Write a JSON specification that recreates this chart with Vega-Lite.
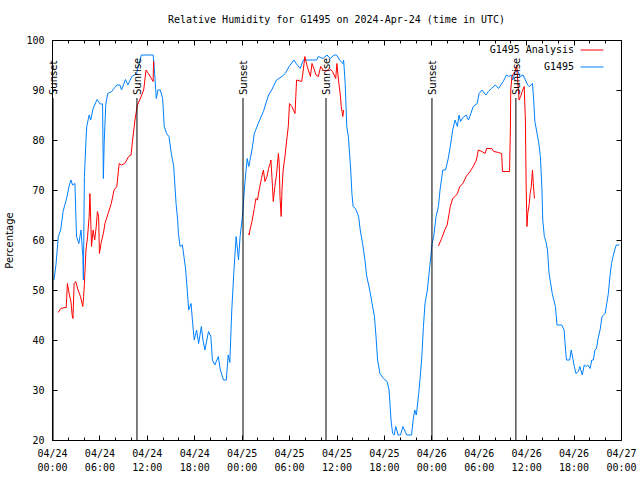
{
  "$schema": "https://vega.github.io/schema/vega-lite/v6.json",
  "width": 569,
  "height": 400,
  "autosize": "none",
  "padding": {"left": 52, "top": 40, "right": 19, "bottom": 40},
  "background": "#ffffff",
  "title": {"text": "Relative Humidity for G1495 on 2024-Apr-24 (time in UTC)", "font": "DejaVu Sans Mono", "fontSize": 10, "fontWeight": "normal", "color": "#000000", "offset": 10, "anchor": "middle"},
  "config": {
    "view": {"stroke": "#000000", "strokeWidth": 1},
    "axis": {"grid": false, "domain": false, "tickColor": "#000000", "labelColor": "#000000", "titleColor": "#000000", "labelFont": "DejaVu Sans Mono", "labelFontSize": 10},
    "legend": {"labelFont": "DejaVu Sans Mono", "labelFontSize": 10, "labelColor": "#000000"}
  },
  "datasets": {
    "obs": [
      {"series":"G1495","hour":0.25,"rh":52},{"series":"G1495","hour":0.5,"rh":55},{"series":"G1495","hour":0.8,"rh":60.7},{"series":"G1495","hour":1.1,"rh":62},{"series":"G1495","hour":1.4,"rh":65.7},{"series":"G1495","hour":1.86,"rh":68.4},{"series":"G1495","hour":2.2,"rh":71},{"series":"G1495","hour":2.4,"rh":72},{"series":"G1495","hour":2.6,"rh":71},{"series":"G1495","hour":2.9,"rh":71.3},{"series":"G1495","hour":3.1,"rh":60.7},{"series":"G1495","hour":3.4,"rh":59.3},{"series":"G1495","hour":3.67,"rh":62},{"series":"G1495","hour":3.9,"rh":56.7},{"series":"G1495","hour":3.97,"rh":52},{"series":"G1495","hour":4.1,"rh":72.7},{"series":"G1495","hour":4.3,"rh":80},{"series":"G1495","hour":4.4,"rh":82.7},{"series":"G1495","hour":4.7,"rh":85},{"series":"G1495","hour":4.9,"rh":84},{"series":"G1495","hour":5.2,"rh":86.3},{"series":"G1495","hour":5.7,"rh":88.1},{"series":"G1495","hour":6.1,"rh":87.2},{"series":"G1495","hour":6.4,"rh":87.2},{"series":"G1495","hour":6.5,"rh":72.3},{"series":"G1495","hour":6.6,"rh":79.3},{"series":"G1495","hour":6.8,"rh":87},{"series":"G1495","hour":7.05,"rh":89.3},{"series":"G1495","hour":7.55,"rh":89.7},{"series":"G1495","hour":8.2,"rh":91},{"series":"G1495","hour":8.6,"rh":91},{"series":"G1495","hour":8.8,"rh":90},{"series":"G1495","hour":9.3,"rh":92.1},{"series":"G1495","hour":9.6,"rh":91},{"series":"G1495","hour":10.1,"rh":92.7},{"series":"G1495","hour":10.7,"rh":93.3},{"series":"G1495","hour":11.3,"rh":97},{"series":"G1495","hour":12.8,"rh":97},{"series":"G1495","hour":12.9,"rh":95.3},{"series":"G1495","hour":13.2,"rh":88.3},{"series":"G1495","hour":13.4,"rh":90},{"series":"G1495","hour":13.7,"rh":90},{"series":"G1495","hour":14.0,"rh":88.3},{"series":"G1495","hour":14.2,"rh":82.7},{"series":"G1495","hour":14.5,"rh":81.3},{"series":"G1495","hour":14.8,"rh":80.7},{"series":"G1495","hour":15.1,"rh":77.3},{"series":"G1495","hour":15.4,"rh":74.7},{"series":"G1495","hour":15.7,"rh":67.3},{"series":"G1495","hour":15.9,"rh":64},{"series":"G1495","hour":16.0,"rh":61.3},{"series":"G1495","hour":16.2,"rh":58.7},{"series":"G1495","hour":16.5,"rh":59},{"series":"G1495","hour":16.9,"rh":54.3},{"series":"G1495","hour":17.05,"rh":51.3},{"series":"G1495","hour":17.3,"rh":46},{"series":"G1495","hour":17.6,"rh":47.3},{"series":"G1495","hour":17.8,"rh":43.3},{"series":"G1495","hour":18.0,"rh":40},{"series":"G1495","hour":18.3,"rh":42},{"series":"G1495","hour":18.55,"rh":39.3},{"series":"G1495","hour":18.9,"rh":42.7},{"series":"G1495","hour":19.1,"rh":40},{"series":"G1495","hour":19.35,"rh":38},{"series":"G1495","hour":19.8,"rh":41.7},{"series":"G1495","hour":20.1,"rh":40.7},{"series":"G1495","hour":20.3,"rh":36},{"series":"G1495","hour":20.6,"rh":35},{"series":"G1495","hour":21.05,"rh":36.7},{"series":"G1495","hour":21.3,"rh":34},{"series":"G1495","hour":21.7,"rh":32},{"series":"G1495","hour":22.05,"rh":32},{"series":"G1495","hour":22.3,"rh":37},{"series":"G1495","hour":22.5,"rh":35.5},{"series":"G1495","hour":22.75,"rh":46},{"series":"G1495","hour":23.0,"rh":53.3},{"series":"G1495","hour":23.3,"rh":60.7},{"series":"G1495","hour":23.6,"rh":56},{"series":"G1495","hour":23.8,"rh":60.7},{"series":"G1495","hour":24.1,"rh":64.7},{"series":"G1495","hour":24.4,"rh":71.3},{"series":"G1495","hour":24.7,"rh":76.3},{"series":"G1495","hour":24.9,"rh":74.7},{"series":"G1495","hour":25.3,"rh":78},{"series":"G1495","hour":25.6,"rh":81.3},{"series":"G1495","hour":26.1,"rh":83.3},{"series":"G1495","hour":26.75,"rh":85.7},{"series":"G1495","hour":27.4,"rh":89},{"series":"G1495","hour":27.8,"rh":90},{"series":"G1495","hour":28.4,"rh":92},{"series":"G1495","hour":29.1,"rh":92.7},{"series":"G1495","hour":29.5,"rh":93.3},{"series":"G1495","hour":30.0,"rh":94.7},{"series":"G1495","hour":30.6,"rh":96},{"series":"G1495","hour":30.9,"rh":95.3},{"series":"G1495","hour":31.4,"rh":94.3},{"series":"G1495","hour":31.8,"rh":96},{"series":"G1495","hour":32.3,"rh":96},{"series":"G1495","hour":33.5,"rh":96},{"series":"G1495","hour":33.7,"rh":96.7},{"series":"G1495","hour":34.3,"rh":96.3},{"series":"G1495","hour":34.8,"rh":97},{"series":"G1495","hour":35.2,"rh":96.3},{"series":"G1495","hour":35.7,"rh":97},{"series":"G1495","hour":36.0,"rh":97},{"series":"G1495","hour":36.4,"rh":96},{"series":"G1495","hour":36.8,"rh":95.3},{"series":"G1495","hour":36.9,"rh":96},{"series":"G1495","hour":37.1,"rh":91.3},{"series":"G1495","hour":37.3,"rh":82.7},{"series":"G1495","hour":37.5,"rh":80.7},{"series":"G1495","hour":37.8,"rh":74},{"series":"G1495","hour":37.95,"rh":69.3},{"series":"G1495","hour":38.1,"rh":66.7},{"series":"G1495","hour":38.4,"rh":66.3},{"series":"G1495","hour":38.8,"rh":64.7},{"series":"G1495","hour":39.0,"rh":62},{"series":"G1495","hour":39.3,"rh":59.3},{"series":"G1495","hour":39.6,"rh":56},{"series":"G1495","hour":39.8,"rh":53},{"series":"G1495","hour":40.2,"rh":50},{"series":"G1495","hour":40.5,"rh":47.3},{"series":"G1495","hour":40.8,"rh":44.7},{"series":"G1495","hour":41.0,"rh":40.7},{"series":"G1495","hour":41.2,"rh":36},{"series":"G1495","hour":41.5,"rh":33.3},{"series":"G1495","hour":41.95,"rh":32.3},{"series":"G1495","hour":42.4,"rh":31.7},{"series":"G1495","hour":42.65,"rh":30},{"series":"G1495","hour":42.9,"rh":24},{"series":"G1495","hour":43.1,"rh":21.3},{"series":"G1495","hour":43.3,"rh":21},{"series":"G1495","hour":43.5,"rh":22.7},{"series":"G1495","hour":43.8,"rh":21},{"series":"G1495","hour":44.1,"rh":21},{"series":"G1495","hour":44.4,"rh":22.7},{"series":"G1495","hour":44.6,"rh":22},{"series":"G1495","hour":44.9,"rh":21},{"series":"G1495","hour":45.5,"rh":21},{"series":"G1495","hour":45.7,"rh":24},{"series":"G1495","hour":45.9,"rh":26},{"series":"G1495","hour":46.1,"rh":25},{"series":"G1495","hour":46.4,"rh":29.3},{"series":"G1495","hour":46.6,"rh":32.7},{"series":"G1495","hour":46.8,"rh":36.7},{"series":"G1495","hour":47.0,"rh":42.7},{"series":"G1495","hour":47.2,"rh":47.3},{"series":"G1495","hour":47.5,"rh":50},{"series":"G1495","hour":47.8,"rh":54.7},{"series":"G1495","hour":48.1,"rh":59.3},{"series":"G1495","hour":48.3,"rh":60.7},{"series":"G1495","hour":48.6,"rh":64.7},{"series":"G1495","hour":48.9,"rh":66.7},{"series":"G1495","hour":49.1,"rh":70},{"series":"G1495","hour":49.45,"rh":74},{"series":"G1495","hour":49.8,"rh":74},{"series":"G1495","hour":50.1,"rh":76},{"series":"G1495","hour":50.4,"rh":78.7},{"series":"G1495","hour":50.7,"rh":82},{"series":"G1495","hour":51.0,"rh":84},{"series":"G1495","hour":51.3,"rh":82.7},{"series":"G1495","hour":51.5,"rh":85},{"series":"G1495","hour":51.7,"rh":83.7},{"series":"G1495","hour":52.0,"rh":84.5},{"series":"G1495","hour":52.4,"rh":85},{"series":"G1495","hour":52.7,"rh":84},{"series":"G1495","hour":53.0,"rh":85.3},{"series":"G1495","hour":53.3,"rh":86.7},{"series":"G1495","hour":53.8,"rh":87.3},{"series":"G1495","hour":54.05,"rh":89.3},{"series":"G1495","hour":54.4,"rh":90},{"series":"G1495","hour":54.9,"rh":89},{"series":"G1495","hour":55.2,"rh":89.7},{"series":"G1495","hour":55.6,"rh":90.3},{"series":"G1495","hour":56.1,"rh":91},{"series":"G1495","hour":56.5,"rh":90.3},{"series":"G1495","hour":56.8,"rh":91},{"series":"G1495","hour":57.1,"rh":91.7},{"series":"G1495","hour":57.5,"rh":93},{"series":"G1495","hour":57.8,"rh":92.7},{"series":"G1495","hour":58.1,"rh":93},{"series":"G1495","hour":58.3,"rh":92},{"series":"G1495","hour":58.6,"rh":93.7},{"series":"G1495","hour":59.0,"rh":93.7},{"series":"G1495","hour":59.2,"rh":92.7},{"series":"G1495","hour":59.6,"rh":93},{"series":"G1495","hour":59.9,"rh":92},{"series":"G1495","hour":60.2,"rh":91},{"series":"G1495","hour":60.4,"rh":90.7},{"series":"G1495","hour":60.8,"rh":91.3},{"series":"G1495","hour":60.95,"rh":88},{"series":"G1495","hour":61.1,"rh":83.7},{"series":"G1495","hour":61.3,"rh":82},{"series":"G1495","hour":61.6,"rh":79.3},{"series":"G1495","hour":61.8,"rh":76.7},{"series":"G1495","hour":62.0,"rh":70},{"series":"G1495","hour":62.1,"rh":64},{"series":"G1495","hour":62.3,"rh":60.7},{"series":"G1495","hour":62.5,"rh":59.7},{"series":"G1495","hour":62.7,"rh":58},{"series":"G1495","hour":62.9,"rh":53.3},{"series":"G1495","hour":63.3,"rh":49.3},{"series":"G1495","hour":63.5,"rh":48},{"series":"G1495","hour":63.7,"rh":46.7},{"series":"G1495","hour":63.9,"rh":43},{"series":"G1495","hour":64.5,"rh":43},{"series":"G1495","hour":64.8,"rh":42},{"series":"G1495","hour":65.0,"rh":37.7},{"series":"G1495","hour":65.1,"rh":36},{"series":"G1495","hour":65.5,"rh":36},{"series":"G1495","hour":65.7,"rh":38},{"series":"G1495","hour":65.9,"rh":36.3},{"series":"G1495","hour":66.1,"rh":34.7},{"series":"G1495","hour":66.3,"rh":33.3},{"series":"G1495","hour":66.6,"rh":33.7},{"series":"G1495","hour":66.8,"rh":34.7},{"series":"G1495","hour":67.1,"rh":33},{"series":"G1495","hour":67.35,"rh":35},{"series":"G1495","hour":67.6,"rh":34.7},{"series":"G1495","hour":67.8,"rh":35},{"series":"G1495","hour":68.1,"rh":34.3},{"series":"G1495","hour":68.3,"rh":36},{"series":"G1495","hour":68.5,"rh":36},{"series":"G1495","hour":68.7,"rh":38},{"series":"G1495","hour":68.9,"rh":38.3},{"series":"G1495","hour":69.1,"rh":40.3},{"series":"G1495","hour":69.35,"rh":42},{"series":"G1495","hour":69.6,"rh":44.7},{"series":"G1495","hour":70.0,"rh":45.3},{"series":"G1495","hour":70.2,"rh":47.3},{"series":"G1495","hour":70.4,"rh":49.3},{"series":"G1495","hour":70.6,"rh":52.7},{"series":"G1495","hour":70.8,"rh":55.3},{"series":"G1495","hour":71.0,"rh":56.7},{"series":"G1495","hour":71.2,"rh":58},{"series":"G1495","hour":71.4,"rh":59},{"series":"G1495","hour":71.8,"rh":59}
    ],
    "analysis": [
      {"series":"G1495 Analysis","seg":1,"hour":0.8,"rh":45.5},{"series":"G1495 Analysis","seg":1,"hour":1.1,"rh":46.3},{"series":"G1495 Analysis","seg":1,"hour":1.65,"rh":46.5},{"series":"G1495 Analysis","seg":1,"hour":1.8,"rh":46.5},{"series":"G1495 Analysis","seg":1,"hour":1.95,"rh":51.3},{"series":"G1495 Analysis","seg":1,"hour":2.2,"rh":49},{"series":"G1495 Analysis","seg":1,"hour":2.4,"rh":47.7},{"series":"G1495 Analysis","seg":1,"hour":2.55,"rh":45},{"series":"G1495 Analysis","seg":1,"hour":2.65,"rh":44.3},{"series":"G1495 Analysis","seg":1,"hour":2.8,"rh":51.3},{"series":"G1495 Analysis","seg":1,"hour":3.0,"rh":51.7},{"series":"G1495 Analysis","seg":1,"hour":3.3,"rh":50},{"series":"G1495 Analysis","seg":1,"hour":3.6,"rh":48.7},{"series":"G1495 Analysis","seg":1,"hour":3.9,"rh":46.7},{"series":"G1495 Analysis","seg":1,"hour":4.0,"rh":48.7},{"series":"G1495 Analysis","seg":1,"hour":4.1,"rh":51.3},{"series":"G1495 Analysis","seg":1,"hour":4.3,"rh":58},{"series":"G1495 Analysis","seg":1,"hour":4.5,"rh":60.7},{"series":"G1495 Analysis","seg":1,"hour":4.7,"rh":64.7},{"series":"G1495 Analysis","seg":1,"hour":4.8,"rh":69.3},{"series":"G1495 Analysis","seg":1,"hour":4.9,"rh":64},{"series":"G1495 Analysis","seg":1,"hour":5.0,"rh":58.7},{"series":"G1495 Analysis","seg":1,"hour":5.2,"rh":62},{"series":"G1495 Analysis","seg":1,"hour":5.4,"rh":60},{"series":"G1495 Analysis","seg":1,"hour":5.6,"rh":62.7},{"series":"G1495 Analysis","seg":1,"hour":5.75,"rh":65.7},{"series":"G1495 Analysis","seg":1,"hour":5.9,"rh":64.7},{"series":"G1495 Analysis","seg":1,"hour":6.0,"rh":57.3},{"series":"G1495 Analysis","seg":1,"hour":6.2,"rh":59.3},{"series":"G1495 Analysis","seg":1,"hour":6.5,"rh":61.3},{"series":"G1495 Analysis","seg":1,"hour":6.7,"rh":63.3},{"series":"G1495 Analysis","seg":1,"hour":7.1,"rh":65.3},{"series":"G1495 Analysis","seg":1,"hour":7.5,"rh":67.3},{"series":"G1495 Analysis","seg":1,"hour":7.85,"rh":70},{"series":"G1495 Analysis","seg":1,"hour":8.2,"rh":70.7},{"series":"G1495 Analysis","seg":1,"hour":8.5,"rh":75.3},{"series":"G1495 Analysis","seg":1,"hour":8.8,"rh":75},{"series":"G1495 Analysis","seg":1,"hour":9.2,"rh":75.3},{"series":"G1495 Analysis","seg":1,"hour":9.7,"rh":76.7},{"series":"G1495 Analysis","seg":1,"hour":10.0,"rh":77},{"series":"G1495 Analysis","seg":1,"hour":10.2,"rh":80},{"series":"G1495 Analysis","seg":1,"hour":10.5,"rh":84},{"series":"G1495 Analysis","seg":1,"hour":10.8,"rh":87},{"series":"G1495 Analysis","seg":1,"hour":11.1,"rh":88},{"series":"G1495 Analysis","seg":1,"hour":11.6,"rh":90},{"series":"G1495 Analysis","seg":1,"hour":11.9,"rh":94},{"series":"G1495 Analysis","seg":1,"hour":12.2,"rh":93.3},{"series":"G1495 Analysis","seg":1,"hour":12.8,"rh":91.7},{"series":"G1495 Analysis","seg":1,"hour":12.85,"rh":95.7},{"series":"G1495 Analysis","seg":1,"hour":12.9,"rh":95},
      {"series":"G1495 Analysis","seg":2,"hour":24.85,"rh":61.3},{"series":"G1495 Analysis","seg":2,"hour":24.95,"rh":61},{"series":"G1495 Analysis","seg":2,"hour":25.05,"rh":62},{"series":"G1495 Analysis","seg":2,"hour":25.3,"rh":63.7},{"series":"G1495 Analysis","seg":2,"hour":25.6,"rh":66.3},{"series":"G1495 Analysis","seg":2,"hour":25.8,"rh":68.3},{"series":"G1495 Analysis","seg":2,"hour":26.0,"rh":68},{"series":"G1495 Analysis","seg":2,"hour":26.25,"rh":70.3},{"series":"G1495 Analysis","seg":2,"hour":26.5,"rh":72.3},{"series":"G1495 Analysis","seg":2,"hour":26.75,"rh":74},{"series":"G1495 Analysis","seg":2,"hour":26.95,"rh":71.7},{"series":"G1495 Analysis","seg":2,"hour":27.2,"rh":72.7},{"series":"G1495 Analysis","seg":2,"hour":27.4,"rh":74.3},{"series":"G1495 Analysis","seg":2,"hour":27.6,"rh":75.3},{"series":"G1495 Analysis","seg":2,"hour":27.7,"rh":76},{"series":"G1495 Analysis","seg":2,"hour":27.9,"rh":70.7},{"series":"G1495 Analysis","seg":2,"hour":28.0,"rh":67.7},{"series":"G1495 Analysis","seg":2,"hour":28.2,"rh":70.7},{"series":"G1495 Analysis","seg":2,"hour":28.4,"rh":73},{"series":"G1495 Analysis","seg":2,"hour":28.65,"rh":77.3},{"series":"G1495 Analysis","seg":2,"hour":28.75,"rh":75.3},{"series":"G1495 Analysis","seg":2,"hour":28.85,"rh":68.7},{"series":"G1495 Analysis","seg":2,"hour":29.0,"rh":64.7},{"series":"G1495 Analysis","seg":2,"hour":29.1,"rh":70},{"series":"G1495 Analysis","seg":2,"hour":29.25,"rh":74},{"series":"G1495 Analysis","seg":2,"hour":29.5,"rh":77},{"series":"G1495 Analysis","seg":2,"hour":29.7,"rh":80},{"series":"G1495 Analysis","seg":2,"hour":29.9,"rh":82.7},{"series":"G1495 Analysis","seg":2,"hour":30.05,"rh":87.3},{"series":"G1495 Analysis","seg":2,"hour":30.35,"rh":86.7},{"series":"G1495 Analysis","seg":2,"hour":30.75,"rh":85.3},{"series":"G1495 Analysis","seg":2,"hour":30.85,"rh":88.7},{"series":"G1495 Analysis","seg":2,"hour":30.95,"rh":92},{"series":"G1495 Analysis","seg":2,"hour":31.6,"rh":91.7},{"series":"G1495 Analysis","seg":2,"hour":31.8,"rh":94},{"series":"G1495 Analysis","seg":2,"hour":32.0,"rh":96.7},{"series":"G1495 Analysis","seg":2,"hour":32.3,"rh":94.7},{"series":"G1495 Analysis","seg":2,"hour":32.7,"rh":92.7},{"series":"G1495 Analysis","seg":2,"hour":32.9,"rh":95.3},{"series":"G1495 Analysis","seg":2,"hour":33.2,"rh":94},{"series":"G1495 Analysis","seg":2,"hour":33.4,"rh":93},{"series":"G1495 Analysis","seg":2,"hour":33.7,"rh":92.7},{"series":"G1495 Analysis","seg":2,"hour":34.0,"rh":94.7},{"series":"G1495 Analysis","seg":2,"hour":34.3,"rh":94},{"series":"G1495 Analysis","seg":2,"hour":34.65,"rh":93.7},{"series":"G1495 Analysis","seg":2,"hour":35.1,"rh":94.3},{"series":"G1495 Analysis","seg":2,"hour":35.5,"rh":93.7},{"series":"G1495 Analysis","seg":2,"hour":35.9,"rh":92.3},{"series":"G1495 Analysis","seg":2,"hour":36.05,"rh":95.3},{"series":"G1495 Analysis","seg":2,"hour":36.25,"rh":92},{"series":"G1495 Analysis","seg":2,"hour":36.5,"rh":88.7},{"series":"G1495 Analysis","seg":2,"hour":36.6,"rh":86.7},{"series":"G1495 Analysis","seg":2,"hour":36.8,"rh":84.7},{"series":"G1495 Analysis","seg":2,"hour":36.9,"rh":86},
      {"series":"G1495 Analysis","seg":3,"hour":48.9,"rh":58.8},{"series":"G1495 Analysis","seg":3,"hour":49.3,"rh":60.3},{"series":"G1495 Analysis","seg":3,"hour":49.7,"rh":62},{"series":"G1495 Analysis","seg":3,"hour":50.0,"rh":63},{"series":"G1495 Analysis","seg":3,"hour":50.25,"rh":65.3},{"series":"G1495 Analysis","seg":3,"hour":50.4,"rh":66.7},{"series":"G1495 Analysis","seg":3,"hour":50.7,"rh":68.3},{"series":"G1495 Analysis","seg":3,"hour":51.0,"rh":68.7},{"series":"G1495 Analysis","seg":3,"hour":51.3,"rh":69.3},{"series":"G1495 Analysis","seg":3,"hour":51.6,"rh":70.7},{"series":"G1495 Analysis","seg":3,"hour":52.0,"rh":71.3},{"series":"G1495 Analysis","seg":3,"hour":52.4,"rh":72.7},{"series":"G1495 Analysis","seg":3,"hour":52.9,"rh":73.7},{"series":"G1495 Analysis","seg":3,"hour":53.3,"rh":74.7},{"series":"G1495 Analysis","seg":3,"hour":53.7,"rh":76},{"series":"G1495 Analysis","seg":3,"hour":53.95,"rh":78},{"series":"G1495 Analysis","seg":3,"hour":54.4,"rh":77.7},{"series":"G1495 Analysis","seg":3,"hour":54.8,"rh":77.3},{"series":"G1495 Analysis","seg":3,"hour":55.0,"rh":78.3},{"series":"G1495 Analysis","seg":3,"hour":55.65,"rh":78.3},{"series":"G1495 Analysis","seg":3,"hour":55.9,"rh":77.7},{"series":"G1495 Analysis","seg":3,"hour":56.5,"rh":77.5},{"series":"G1495 Analysis","seg":3,"hour":56.9,"rh":77.3},{"series":"G1495 Analysis","seg":3,"hour":57.0,"rh":73.7},{"series":"G1495 Analysis","seg":3,"hour":57.9,"rh":73.7},{"series":"G1495 Analysis","seg":3,"hour":58.0,"rh":82},{"series":"G1495 Analysis","seg":3,"hour":58.05,"rh":90},{"series":"G1495 Analysis","seg":3,"hour":58.2,"rh":92.7},{"series":"G1495 Analysis","seg":3,"hour":58.4,"rh":93.3},{"series":"G1495 Analysis","seg":3,"hour":58.6,"rh":93.7},{"series":"G1495 Analysis","seg":3,"hour":58.8,"rh":95},{"series":"G1495 Analysis","seg":3,"hour":59.1,"rh":88},{"series":"G1495 Analysis","seg":3,"hour":59.3,"rh":88.7},{"series":"G1495 Analysis","seg":3,"hour":59.5,"rh":89.7},{"series":"G1495 Analysis","seg":3,"hour":59.75,"rh":90.7},{"series":"G1495 Analysis","seg":3,"hour":59.9,"rh":84},{"series":"G1495 Analysis","seg":3,"hour":60.0,"rh":70.7},{"series":"G1495 Analysis","seg":3,"hour":60.1,"rh":62.7},{"series":"G1495 Analysis","seg":3,"hour":60.2,"rh":65.3},{"series":"G1495 Analysis","seg":3,"hour":60.4,"rh":67.3},{"series":"G1495 Analysis","seg":3,"hour":60.5,"rh":69.3},{"series":"G1495 Analysis","seg":3,"hour":60.65,"rh":70.7},{"series":"G1495 Analysis","seg":3,"hour":60.8,"rh":74},{"series":"G1495 Analysis","seg":3,"hour":60.9,"rh":71.3},{"series":"G1495 Analysis","seg":3,"hour":61.05,"rh":68.3}
    ],
    "sun": [
      {"hour":0.13,"event":"Sunset"},{"hour":10.75,"event":"Sunrise"},{"hour":24.17,"event":"Sunset"},{"hour":34.67,"event":"Sunrise"},{"hour":48.08,"event":"Sunset"},{"hour":58.7,"event":"Sunrise"}
    ]
  },
  "layer": [
    {
      "data": {"name": "obs"},
      "mark": {"type": "line", "strokeWidth": 1, "interpolate": "linear"},
      "encoding": {
        "x": {"field": "hour", "type": "quantitative", "scale": {"domain": [0, 72], "nice": false},
          "axis": {"orient": "bottom", "values": [0,2,4,6,8,10,12,14,16,18,20,22,24,26,28,30,32,34,36,38,40,42,44,46,48,50,52,54,56,58,60,62,64,66,68,70,72],
            "tickSize": {"condition": {"test": "datum.value % 6 === 0", "value": -5}, "value": -3},
            "labelPadding": 13, "labelBaseline": "top", "labelLineHeight": 14, "labelFlush": false, "labelOverlap": false, "labelAlign": "center",
            "labelExpr": "datum.value % 6 === 0 ? ['04/' + (24 + floor(datum.value / 24)), (datum.value % 24 < 10 ? '0' : '') + (datum.value % 24) + ':00'] : ''",
            "title": null}},
        "y": {"field": "rh", "type": "quantitative", "scale": {"domain": [20, 100], "nice": false},
          "axis": {"orient": "left", "values": [20,30,40,50,60,70,80,90,100], "tickSize": -5, "labelPadding": 13,
            "title": "Percentage", "titleFont": "DejaVu Sans", "titleFontSize": 10, "titleFontWeight": "normal", "titlePadding": 11}},
        "color": {"field": "series", "type": "nominal", "scale": {"domain": ["G1495 Analysis", "G1495"], "range": ["#ff0000", "#0080ff"]},
          "legend": {"title": null, "orient": "none", "legendX": 528, "legendY": -2, "symbolType": "stroke", "symbolSize": 529, "symbolStrokeWidth": 1, "labelAlign": "right", "labelOffset": -30, "rowPadding": 0, "padding": 0}}
      }
    },
    {
      "data": {"name": "analysis"},
      "mark": {"type": "line", "strokeWidth": 1},
      "encoding": {
        "x": {"field": "hour", "type": "quantitative", "axis": {"orient": "top", "values": [0,2,4,6,8,10,12,14,16,18,20,22,24,26,28,30,32,34,36,38,40,42,44,46,48,50,52,54,56,58,60,62,64,66,68,70,72], "tickSize": {"condition": {"test": "datum.value % 6 === 0", "value": -5}, "value": -3}, "labels": false, "title": null}},
        "y": {"field": "rh", "type": "quantitative", "axis": {"orient": "right", "values": [20,30,40,50,60,70,80,90,100], "tickSize": -5, "labels": false, "title": null}},
        "detail": {"field": "seg", "type": "nominal"},
        "color": {"field": "series", "type": "nominal"}
      }
    },
    {
      "data": {"name": "sun"},
      "mark": {"type": "rule", "color": "#000000", "strokeWidth": 1},
      "encoding": {
        "x": {"field": "hour", "type": "quantitative", "axis": null},
        "y": {"datum": 20, "type": "quantitative", "axis": null},
        "y2": {"datum": 88.4}
      }
    },
    {
      "data": {"name": "sun"},
      "mark": {"type": "text", "angle": 270, "align": "left", "baseline": "middle", "font": "DejaVu Sans", "fontSize": 10, "color": "#000000", "dy": 1},
      "encoding": {
        "x": {"field": "hour", "type": "quantitative", "axis": null},
        "y": {"datum": 89, "type": "quantitative", "axis": null},
        "text": {"field": "event"}
      }
    }
  ],
  "resolve": {"axis": {"x": "independent", "y": "independent"}}
}
